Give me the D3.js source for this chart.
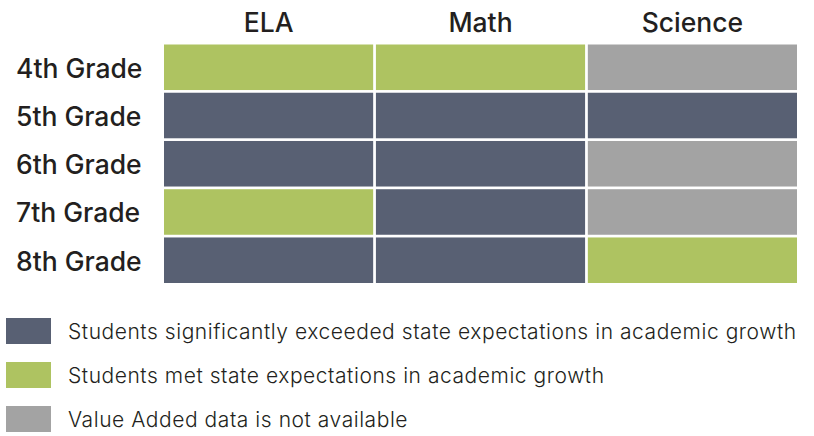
<!DOCTYPE html>
<html>
<head>
<meta charset="utf-8">
<script src="https://cdn.jsdelivr.net/npm/d3@7"></script>
<style>
  body { margin: 0; background: #fff; }
  text { font-family: Inter, "Noto Sans", sans-serif; fill: #231f20; }
</style>
</head>
<body>
<svg id="chart" width="814" height="436"></svg>
<script>
const subjects = ['ELA', 'Math', 'Science'];
const grades = ['4th Grade', '5th Grade', '6th Grade', '7th Grade', '8th Grade'];
// status per grade, in subject order
const ela = ['met', 'exceeded', 'exceeded', 'met', 'exceeded'];
const math = ['met', 'exceeded', 'exceeded', 'exceeded', 'exceeded'];
const science = ['na', 'exceeded', 'na', 'na', 'met'];
const statuses = ['exceeded', 'met', 'na'];
const legendLabels = [
  'Students significantly exceeded state expectations in academic growth',
  'Students met state expectations in academic growth',
  'Value Added data is not available'
];

const columns = {ELA: ela, Math: math, Science: science};
const cells = [];
subjects.forEach(s => grades.forEach((g, i) => cells.push({subject: s, grade: g, status: columns[s][i]})));

const svg = d3.select('#chart');

const x = d3.scaleBand().domain(subjects).range([164, 797]).paddingInner(0.013);
const y = d3.scaleBand().domain(grades).range([44.5, 283]).paddingInner(0.056);
const color = d3.scaleOrdinal().domain(statuses).range(['#586073', '#aec361', '#a3a3a3']);

svg.append('g')
  .selectAll('rect')
  .data(cells)
  .join('rect')
  .attr('x', d => x(d.subject))
  .attr('y', d => y(d.grade))
  .attr('width', x.bandwidth())
  .attr('height', y.bandwidth())
  .attr('fill', d => color(d.status));

svg.append('g')
  .selectAll('text')
  .data(subjects)
  .join('text')
  .attr('x', d => x(d) + x.bandwidth() / 2)
  .attr('y', 32)
  .attr('text-anchor', 'middle')
  .attr('font-size', 26.5)
  .attr('font-weight', 500)
  .text(d => d);

svg.append('g')
  .selectAll('text')
  .data(grades)
  .join('text')
  .attr('x', 16)
  .attr('y', d => y(d) + y.bandwidth() / 2 + 10.5)
  .attr('font-size', 26.5)
  .attr('font-weight', 500)
  .text(d => d);

const ly = d3.scaleBand().domain(statuses).range([318, 450]).paddingInner(0);

const legend = svg.append('g')
  .selectAll('g')
  .data(statuses)
  .join('g')
  .attr('transform', d => `translate(6,${ly(d)})`);

legend.append('rect')
  .attr('width', 45)
  .attr('height', 26)
  .attr('fill', d => color(d));

legend.append('text')
  .attr('x', 62)
  .attr('y', 21)
  .attr('font-size', 21)
  .attr('font-weight', 300)
  .attr('letter-spacing', 0.55)
  .text((d, i) => legendLabels[i]);
</script>
</body>
</html>
